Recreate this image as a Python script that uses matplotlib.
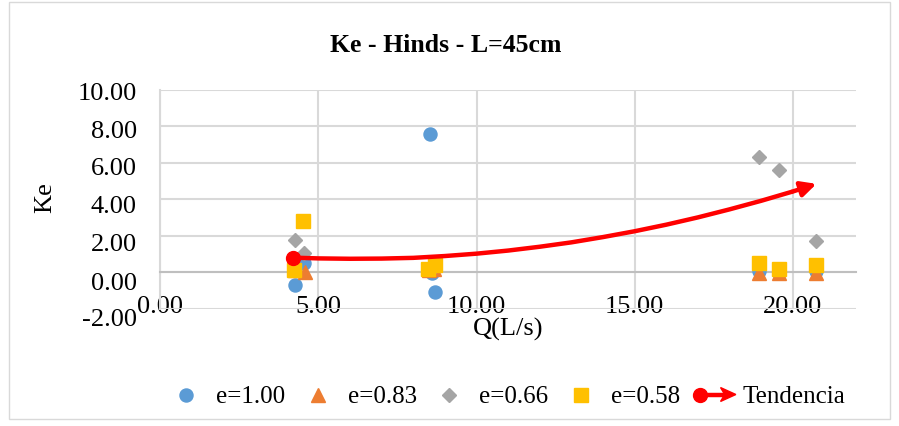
import matplotlib
matplotlib.use("Agg")
import matplotlib.pyplot as plt
from matplotlib.lines import Line2D
from matplotlib.patches import Polygon, Rectangle
from matplotlib.legend_handler import HandlerBase
from matplotlib.transforms import ScaledTranslation

# ---- data ----
q_e100 = [4.26, 4.53, 8.53, 8.60, 8.69, 18.93, 19.58, 20.75]
ke_e100 = [-0.71, 0.51, 7.61, -0.05, -1.08, 0.05, -0.05, 0.05]

q_e083 = [4.26, 4.58, 8.50, 8.65, 18.93, 19.58, 20.75]
ke_e083 = [0.10, 0.02, 0.15, 0.20, -0.02, -0.02, -0.02]

q_e066 = [4.26, 4.53, 8.50, 8.65, 18.93, 19.58, 20.75]
ke_e066 = [1.78, 1.05, 0.20, 0.30, 6.30, 5.61, 1.73]

q_e058 = [4.23, 4.51, 8.47, 8.68, 18.93, 19.58, 20.75]
ke_e058 = [0.11, 2.80, 0.20, 0.40, 0.51, 0.20, 0.38]

trend_q = [4.21, 5.0, 6.0, 7.0, 8.0, 9.0, 10.0, 11.0, 12.0, 13.0, 14.0, 15.0,
           16.0, 17.0, 18.0, 19.0, 20.0, 20.75]
trend_ke = [0.80, 0.76, 0.74, 0.75, 0.79, 0.89, 1.02, 1.19, 1.40, 1.64, 1.93,
            2.25, 2.61, 3.01, 3.45, 3.92, 4.43, 4.85]

x_ticks = [0, 5, 10, 15, 20]
y_ticks = [-2, 0, 2, 4, 6, 8, 10]
labels = ["e=1.00", "e=0.83", "e=0.66", "e=0.58", "Tendencia"]

BLUE = "#5B9BD5"
ORANGE = "#ED7D31"
GRAY = "#A5A5A5"
YELLOW = "#FFC000"
RED = "#FF0000"
GRID = "#D9D9D9"
SERIF = ["Liberation Serif", "DejaVu Serif"]

plt.rcParams["font.family"] = SERIF

fig = plt.figure(figsize=(8.99, 4.26), dpi=100)
W, H = 899, 426
ax = fig.add_axes([160.3 / W, 1 - 308.7 / H, (856 - 160.3) / W, (308.7 - 90) / H])

# chart outer border
fig.patches.append(Rectangle((9 / W, 1 - 419 / H), (890 - 9) / W, (419 - 2) / H,
                             transform=fig.transFigure, fill=False,
                             edgecolor="#D9D9D9", linewidth=1.0))

ax.set_xlim(0, 22)
ax.set_ylim(-2, 10)
ax.set_xticks(x_ticks)
ax.set_yticks(y_ticks)
ax.set_xticklabels([f"{v:.2f}" for v in x_ticks])
ax.set_yticklabels([f"{v:.2f}" for v in y_ticks])
ax.grid(True, color=GRID, linewidth=1.5, zorder=0)
ax.set_axisbelow(True)
for s in ["top", "right"]:
    ax.spines[s].set_visible(False)
ax.spines["bottom"].set_position(("data", 0))
ax.spines["bottom"].set_color("#BFBFBF")
ax.spines["bottom"].set_linewidth(1.5)
ax.spines["left"].set_color(GRID)
ax.spines["left"].set_linewidth(1.5)
ax.tick_params(axis="both", length=0, labelsize=19)
ax.tick_params(axis="x", pad=17)
ax.tick_params(axis="y", pad=17)

# small per-label vertical shifts of the y tick labels (as in the reference)
y_shift_px = [-9, -9, -7, -5, -4, -3, -2]
for t, d in zip(ax.yaxis.get_major_ticks(), y_shift_px):
    t.label1.set_transform(t.label1.get_transform() +
                           ScaledTranslation(0, d / 100, fig.dpi_scale_trans))

ax.plot(q_e100, ke_e100, "o", color=BLUE, markersize=9.4, linestyle="none", zorder=3)
ax.plot(q_e083, ke_e083, "^", color=ORANGE, markersize=9.5, linestyle="none", zorder=3)
ax.plot(q_e066, ke_e066, "D", color=GRAY, markersize=7.0, linestyle="none", zorder=3)
ax.plot(q_e058, ke_e058, "s", color=YELLOW, markersize=9.5, linestyle="none", zorder=3)

# trend line with start marker and arrow head
ax.plot(trend_q[:-1], trend_ke[:-1], color=RED, linewidth=3.2,
        solid_capstyle="butt", zorder=4)
ax.annotate("", xy=(trend_q[-1], trend_ke[-1]), xytext=(trend_q[-2], trend_ke[-2]),
            arrowprops=dict(arrowstyle="-|>,head_length=0.9,head_width=0.45",
                            color=RED, lw=3.2, shrinkA=0, shrinkB=0), zorder=4)
ax.plot([trend_q[0]], [trend_ke[0]], "o", color=RED, markersize=10, zorder=5)

fig.text(446 / W, 1 - 45 / H, "Ke - Hinds - L=45cm", fontsize=18.5,
         fontweight="bold", ha="center", va="center")
ax.set_xlabel("Q(L/s)", fontsize=19)
ax.set_ylabel("Ke", fontsize=19)
ax.xaxis.set_label_coords((508 - 160.3) / (856 - 160.3), -(318 - 308.7) / (308.7 - 90))
ax.yaxis.set_label_coords(-(160.3 - 56) / (856 - 160.3), (308.7 - 198) / (308.7 - 90))


class TrendHandler(HandlerBase):
    def create_artists(self, legend, orig_handle, xdescent, ydescent, width,
                       height, fontsize, trans):
        y = height / 2 - ydescent
        x0 = -xdescent
        x1 = x0 + width + 6
        line = Line2D([x0, x1 - 8], [y, y], color=RED, linewidth=3.2,
                      transform=trans)
        head = Polygon([[x1, y], [x1 - 11, y + 5], [x1 - 8, y], [x1 - 11, y - 5]],
                       closed=True, facecolor=RED, edgecolor=RED, transform=trans)
        dot = Line2D([x0 + 2], [y], marker="o", color=RED, markersize=10,
                     transform=trans)
        return [line, head, dot]


h1 = Line2D([], [], marker="o", color=BLUE, linestyle="none", markersize=9.4)
h2 = Line2D([], [], marker="^", color=ORANGE, linestyle="none", markersize=9.5)
h3 = Line2D([], [], marker="D", color=GRAY, linestyle="none", markersize=7.0)
h4 = Line2D([], [], marker="s", color=YELLOW, linestyle="none", markersize=9.5)
h5 = Line2D([], [], color=RED)
fig.legend([h1, h2, h3, h4, h5], labels, loc="center left",
           bbox_to_anchor=(171 / W, 1 - 397 / H), ncol=5, frameon=False,
           fontsize=18, handlelength=1.2, handletextpad=0.6, columnspacing=0.7,
           borderpad=0, borderaxespad=0,
           handler_map={h5: TrendHandler()})

fig.savefig("out.png", dpi=100)
